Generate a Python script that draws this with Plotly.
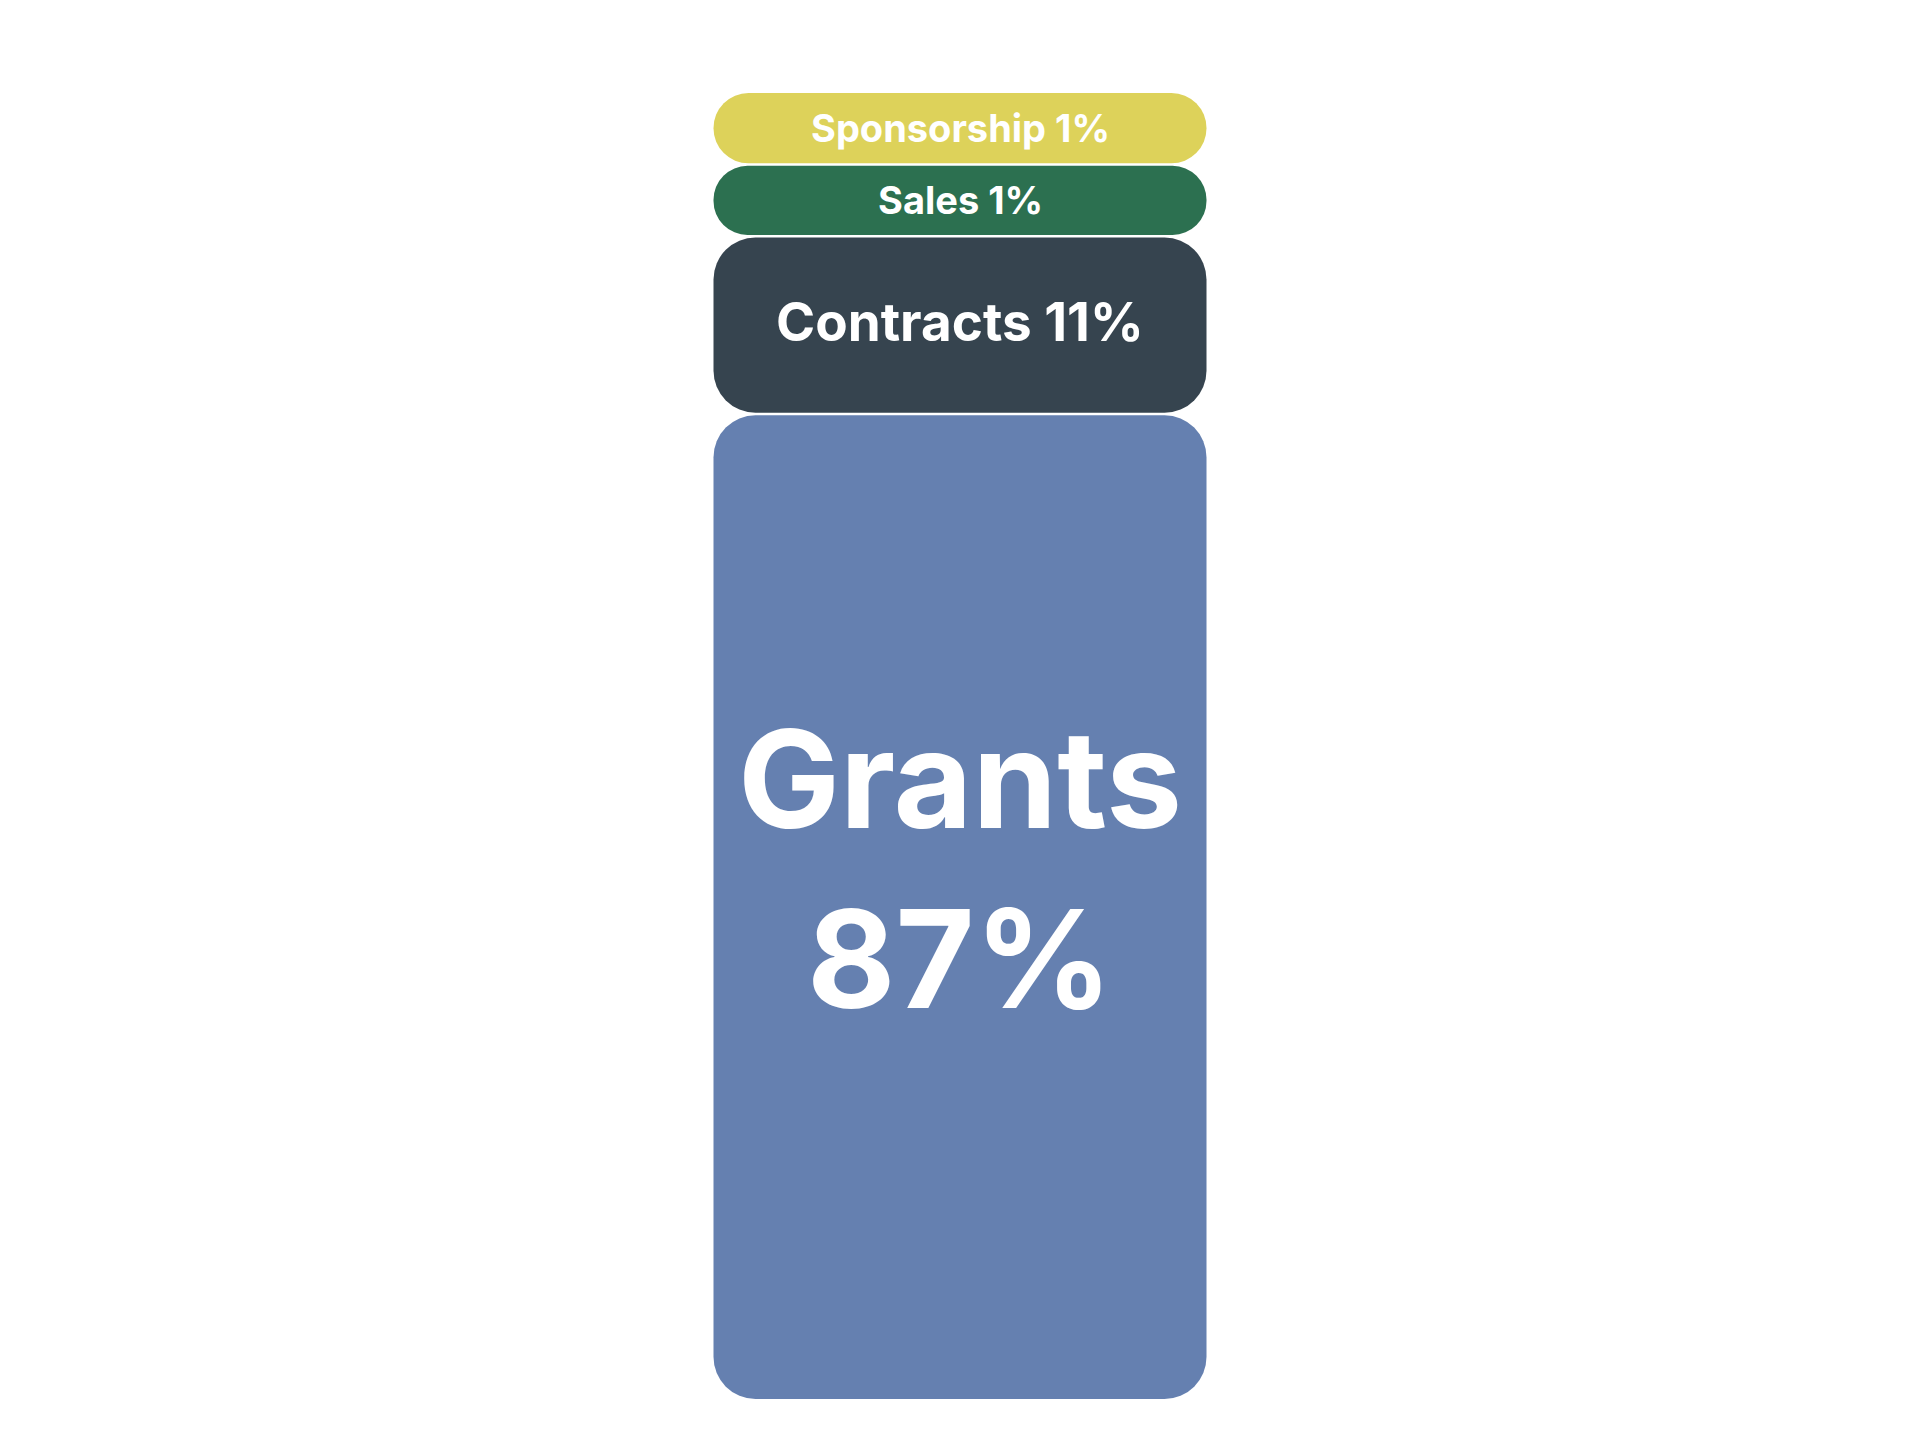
import plotly.graph_objects as go

# ---- data ----
categories = ["Grants", "Contracts", "Sales", "Sponsorship"]
shares = [87, 11, 1, 1]          # percent of revenue

# ---- style ----
colors = ["#6580B0", "#36444F", "#2C7050", "#DDD25A"]
label_sizes = [136, 53, 38, 38]
label_yshift = [39, 3, 0, 0]
grants_line_gap = 90            # px offset of each line from the label centre (two-line label)
min_floor = 5.74      # minimum visible height added to every segment (display scale)
gap = 0.12            # half of the white gap between segments (display units)
bar_width = 1.0
radius = 42
font_family = "Inter"

fig = go.Figure()

# stack positions in display units
bottom = 0.0
segments = []
for cat, share in zip(categories, shares):
    h = share + min_floor
    segments.append((bottom, bottom + h))
    bottom += h
total = bottom

annotations = []
for i, (cat, share) in enumerate(zip(categories, shares)):
    b0, t0 = segments[i]
    b = b0 + (gap if i > 0 else 0)
    t = t0 - (gap if i < len(categories) - 1 else 0)
    m = (b + t) / 2
    fig.add_trace(go.Bar(
        x=[0], y=[t - b], base=[b], width=bar_width,
        marker=dict(color=colors[i], line=dict(width=0), cornerradius=radius),
        hoverinfo="skip", showlegend=False, name=cat,
    ))
    font = dict(family=font_family, size=label_sizes[i], color="white", weight=700)
    if i == 0:
        lines = [cat, f"{share}%"]
        shifts = [label_yshift[i] + grants_line_gap, label_yshift[i] - grants_line_gap]
        for txt, sh in zip(lines, shifts):
            annotations.append(dict(x=0, y=m, xref="x", yref="y", text=txt,
                                    showarrow=False, yshift=sh, font=font))
    else:
        annotations.append(dict(x=0, y=m, xref="x", yref="y", text=f"{cat} {share}%",
                                showarrow=False, yshift=label_yshift[i], font=font))

W, H = 1904, 1424
top_margin, bottom_margin = 85, 33
bar_px = 493
half_range = 0.5 * bar_width * W / bar_px

fig.update_layout(
    width=W, height=H,
    barmode="overlay",
    margin=dict(l=0, r=0, t=top_margin, b=bottom_margin),
    paper_bgcolor="white", plot_bgcolor="white",
    xaxis=dict(visible=False, range=[-half_range, half_range], fixedrange=True),
    yaxis=dict(visible=False, range=[0, total], fixedrange=True),
    annotations=annotations,
    showlegend=False,
)

fig.write_html("out.html")
